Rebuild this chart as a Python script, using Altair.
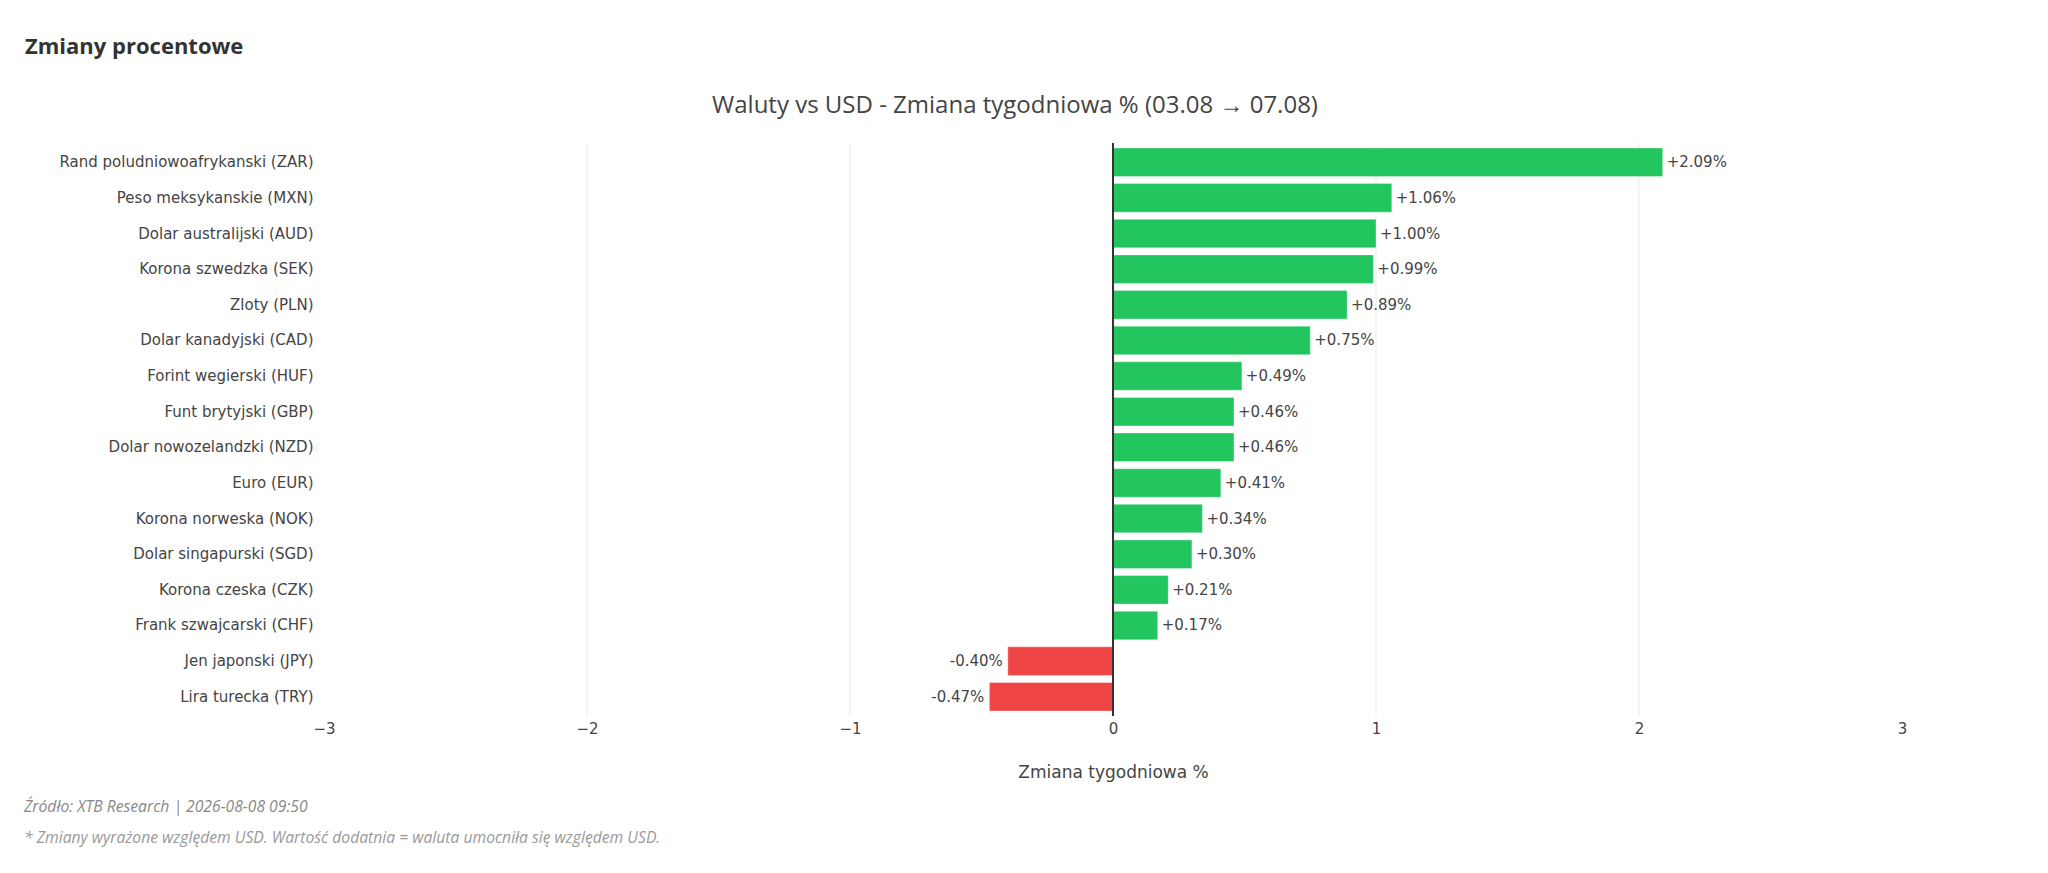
import altair as alt
import pandas as pd

categories = [
    "Rand poludniowoafrykanski (ZAR)",
    "Peso meksykanskie (MXN)",
    "Dolar australijski (AUD)",
    "Korona szwedzka (SEK)",
    "Zloty (PLN)",
    "Dolar kanadyjski (CAD)",
    "Forint wegierski (HUF)",
    "Funt brytyjski (GBP)",
    "Dolar nowozelandzki (NZD)",
    "Euro (EUR)",
    "Korona norweska (NOK)",
    "Dolar singapurski (SGD)",
    "Korona czeska (CZK)",
    "Frank szwajcarski (CHF)",
    "Jen japonski (JPY)",
    "Lira turecka (TRY)",
]
values = [2.09, 1.06, 1.00, 0.99, 0.89, 0.75, 0.49, 0.46, 0.46, 0.41, 0.34, 0.30, 0.21, 0.17, -0.40, -0.47]
x_ticks = [-3, -2, -1, 0, 1, 2, 3]
grid_vals = [-2, -1, 1, 2]

heading = "Zmiany procentowe"
title_text = "Waluty vs USD - Zmiana tygodniowa % (03.08 \u2192 07.08)"
x_title = "Zmiana tygodniowa %"
footer1 = "\u0179r\u00f3d\u0142o: XTB Research | 2026-08-08 09:50"
footer2 = "* Zmiany wyra\u017cone wzgl\u0119dem USD. Warto\u015b\u0107 dodatnia = waluta umocni\u0142a si\u0119 wzgl\u0119dem USD."

GREEN = "#22c55e"
RED = "#ef4444"
TXT = "#444444"
TICK_FONT = "DejaVu Sans"
HEAD_FONT = "Open Sans"

W, H = 1578, 573

df = pd.DataFrame({"cat": categories, "v": values})
df["sign"] = ["pos" if v >= 0 else "neg" for v in values]
df["label"] = [f"{v:+.2f}%" for v in values]

x_scale = alt.Scale(domain=[-3, 3], nice=False, zero=False)
y_enc = alt.Y(
    "cat:N",
    sort=categories,
    scale=alt.Scale(paddingInner=0.2, paddingOuter=0.14),
    axis=alt.Axis(
        title=None, ticks=False, domain=False, grid=False,
        labelFont=TICK_FONT, labelFontSize=15, labelColor=TXT,
        labelPadding=11, labelLimit=500,
    ),
)

base = alt.Chart(df)

grid = alt.Chart(pd.DataFrame({"g": grid_vals})).mark_rule(
    color="#ebebeb", strokeWidth=1
).encode(x=alt.X("g:Q", scale=x_scale))

bars = base.mark_bar(stroke="white", strokeOpacity=0.35, strokeWidth=1).encode(
    x=alt.X(
        "v:Q",
        scale=x_scale,
        axis=alt.Axis(
            values=x_ticks, format="d", grid=False, domain=False, ticks=False,
            labelFont=TICK_FONT, labelFontSize=15, labelColor=TXT,
            labelPadding=5, labelFlush=False,
            title=x_title, titleFont=TICK_FONT, titleFontSize=17,
            titleFontWeight="normal", titleColor=TXT, titlePadding=28,
        ),
    ),
    x2=alt.datum(0),
    y=y_enc,
    color=alt.Color(
        "sign:N",
        scale=alt.Scale(domain=["pos", "neg"], range=[GREEN, RED]),
        legend=None,
    ),
)

lab_pos = base.transform_filter(alt.datum.v >= 0).mark_text(
    align="left", baseline="middle", dx=4, font=TICK_FONT, fontSize=15, color=TXT
).encode(x=alt.X("v:Q", scale=x_scale), y=alt.Y("cat:N", sort=categories), text="label:N")

lab_neg = base.transform_filter(alt.datum.v < 0).mark_text(
    align="right", baseline="middle", dx=-5, font=TICK_FONT, fontSize=15, color=TXT
).encode(x=alt.X("v:Q", scale=x_scale), y=alt.Y("cat:N", sort=categories), text="label:N")

zero = alt.Chart(pd.DataFrame({"z": [0]})).mark_rule(
    color="#333333", strokeWidth=2
).encode(x=alt.X("z:Q", scale=x_scale))

def note(txt, x, y, **kw):
    return alt.Chart(pd.DataFrame({"t": [txt]})).mark_text(baseline="middle", **kw).encode(
        text="t:N", x=alt.value(x), y=alt.value(y)
    )

head = note(heading, -299, -96, align="left", font=HEAD_FONT, fontSize=22, fontWeight="bold", color="#333333")
ttl = note(title_text, 691, -37, align="center", font=HEAD_FONT, fontSize=24, color=TXT)
f1 = note(footer1, -300, 664, align="left", font=HEAD_FONT, fontSize=15.7, fontStyle="italic", color="#888888")
f2 = note(footer2, -300, 695, align="left", font=HEAD_FONT, fontSize=15.7, fontStyle="italic", color="#999999")

chart = alt.layer(grid, bars, zero, lab_pos, lab_neg, head, ttl, f1, f2).properties(
    width=W,
    height=H,
    background="white",
    autosize=alt.AutoSizeParams(type="none"),
    padding={"left": 316, "top": 135, "right": 120, "bottom": 148},
).configure_view(stroke=None)

chart.save("out.html", embed_options={"renderer": "svg", "actions": False})
